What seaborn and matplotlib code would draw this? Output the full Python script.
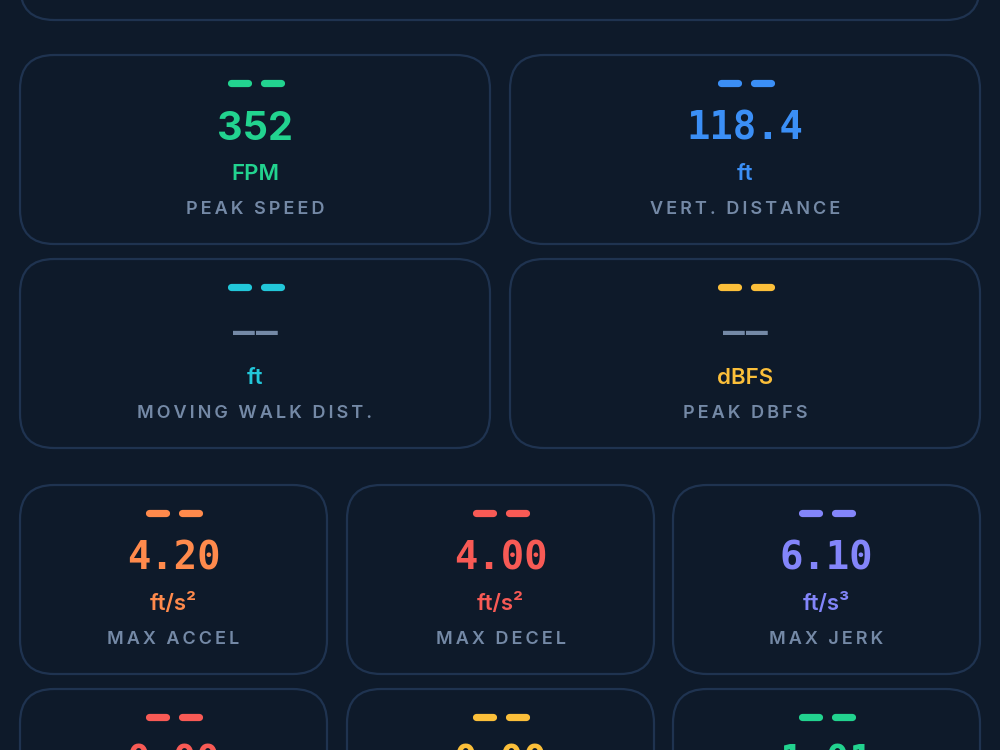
import matplotlib
matplotlib.use("Agg")
import matplotlib.pyplot as plt
from matplotlib.patches import FancyBboxPatch
import seaborn as sns

# card contents, top to bottom, left to right
values = ["352", "118.4", "--", "--", "4.20", "4.00", "6.10", "0.00", "0.00", "1.01"]
units = ["FPM", "ft", "ft", "dBFS", "ft/s²", "ft/s²", "ft/s³", "", "", ""]
labels = ["PEAK SPEED", "VERT. DISTANCE", "MOVING WALK DIST.", "PEAK DBFS",
          "MAX ACCEL", "MAX DECEL", "MAX JERK", "", "", ""]
accents = ["#22d38f", "#3b8ff6", "#22c7d9", "#fbbf3a", "#ff8a4c",
           "#f85a55", "#8385fa", "#f85a55", "#fbbf3a", "#22d38f"]

BG = "#0e1a2a"
EDGE = "#1f3350"
MUTED = "#7489a6"

sns.set_theme(style="dark", rc={"figure.facecolor": BG, "axes.facecolor": BG})
plt.rcParams["font.family"] = ["Inter", "DejaVu Sans"]

fig = plt.figure(figsize=(10, 7.5), dpi=100)
ax = fig.add_axes([0, 0, 1, 1])
ax.set_xlim(0, 1000)
ax.set_ylim(750, 0)
ax.axis("off")


def spaced(s):
    return "\u2009".join(s)


def card(x0, y0, w, h):
    ax.add_patch(FancyBboxPatch((x0, y0), w, h, boxstyle="round,pad=0,rounding_size=34",
                                fc=BG, ec=EDGE, lw=1.6, zorder=1))


# partially visible card at the very top
card(20, -200, 960, 220)

# (x0, y0, width) for each card
slots = [(20, 55, 470), (510, 55, 470), (20, 259, 470), (510, 259, 470),
         (20, 485, 307), (347, 485, 307), (673, 485, 307),
         (20, 689, 307), (347, 689, 307), (673, 689, 307)]

for i, (x0, y0, w) in enumerate(slots):
    card(x0, y0, w, 189)
    cx = x0 + w / 2
    col = accents[i]
    for a, b in [(-24.5, -7.5), (8.5, 25.5)]:
        ax.plot([cx + a, cx + b], [y0 + 28, y0 + 28], color=col, lw=5.2,
                solid_capstyle="round", zorder=3)
    val = values[i]
    if val == "--":
        # placeholder: two separate mono dashes with a small gap
        for dx in (-11.5, 11.5):
            ax.text(cx + dx, y0 + 74, "\u2013", color=MUTED, fontsize=26, fontweight="bold",
                    family="DejaVu Sans Mono", ha="center", va="center", zorder=3)
    elif i == 0:
        ax.text(cx, y0 + 74, val, color=col, fontsize=28.5, fontweight="bold",
                ha="center", va="center", zorder=3)
    else:
        ax.text(cx, y0 + 74, val, color=col, fontsize=28, fontweight="bold",
                family="DejaVu Sans Mono", ha="center", va="center", zorder=3)
    if units[i]:
        ax.text(cx, y0 + 119, units[i], color=col, fontsize=16, fontweight="semibold",
                ha="center", va="center", zorder=3)
    if labels[i]:
        ax.text(cx, y0 + 154, spaced(labels[i]), color=MUTED, fontsize=13,
                fontweight="semibold", ha="center", va="center", zorder=3)

fig.savefig("out.png", dpi=100, facecolor=BG)
